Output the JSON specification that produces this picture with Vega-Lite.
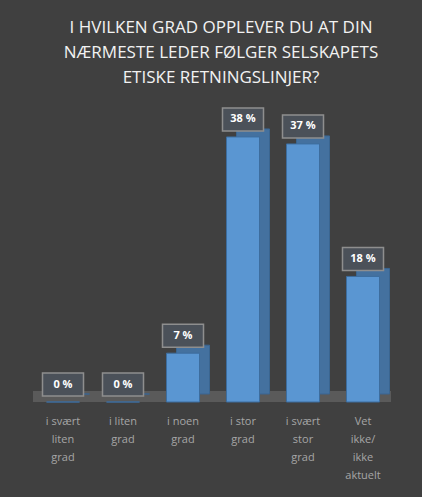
{
  "$schema": "https://vega.github.io/schema/vega-lite/v6.json",
  "autosize": "none",
  "width": 360,
  "height": 279,
  "padding": {"left": 33, "top": 123, "right": 29, "bottom": 95},
  "background": "#404040",
  "title": {
    "text": ["I HVILKEN GRAD OPPLEVER DU AT DIN", "NÆRMESTE LEDER FØLGER SELSKAPETS", "ETISKE RETNINGSLINJER?"],
    "anchor": "middle",
    "dx": 8,
    "offset": 20,
    "font": "Open Sans",
    "fontSize": 17,
    "fontWeight": "normal",
    "color": "#f2f2f2",
    "lineHeight": 25
  },
  "config": {"view": {"stroke": null}},
  "data": {
    "values": [
      {"cat": "i svært|liten|grad", "value": 0, "label": "0 %"},
      {"cat": "i liten|grad", "value": 0, "label": "0 %"},
      {"cat": "i noen|grad", "value": 7, "label": "7 %"},
      {"cat": "i stor|grad", "value": 38, "label": "38 %"},
      {"cat": "i svært|stor|grad", "value": 37, "label": "37 %"},
      {"cat": "Vet|ikke/|ikke|aktuelt", "value": 18, "label": "18 %"}
    ]
  },
  "layer": [
    {
      "mark": {"type": "rect", "color": "#5a5a5a", "yOffset": -11, "xOffset": -2, "x2Offset": 14},
      "encoding": {
        "y": {"datum": 0, "type": "quantitative", "scale": {"domain": [0, 40]}, "axis": null},
        "y2": {"datum": 0}
      }
    },
    {
      "mark": {"type": "bar", "width": 33, "color": "#44719f", "stroke": "#3a6590", "strokeWidth": 1, "xOffset": 10, "yOffset": -8, "y2Offset": -8},
      "encoding": {
        "x": {"field": "cat", "type": "nominal", "sort": null, "axis": null, "scale": {"paddingInner": 0.45, "paddingOuter": 0.225}},
        "y": {"field": "value", "type": "quantitative"},
        "y2": {"datum": 0}
      }
    },
    {
      "mark": {"type": "bar", "width": 33, "color": "#5a96d2", "stroke": "#3d6d9e", "strokeWidth": 1},
      "encoding": {
        "x": {"field": "cat", "type": "nominal", "sort": null},
        "y": {"field": "value", "type": "quantitative"},
        "y2": {"datum": 0}
      }
    },
    {
      "mark": {"type": "bar", "width": 41, "color": "#4b5159", "stroke": "#8e8e8e", "strokeWidth": 1.5, "yOffset": -29, "y2Offset": -6},
      "encoding": {
        "x": {"field": "cat", "type": "nominal", "sort": null},
        "y": {"field": "value", "type": "quantitative"},
        "y2": {"field": "value"}
      }
    },
    {
      "mark": {"type": "text", "color": "#ffffff", "font": "Open Sans", "fontSize": 11, "fontWeight": "bold", "dy": -17.5, "baseline": "middle"},
      "encoding": {
        "x": {"field": "cat", "type": "nominal", "sort": null},
        "y": {"field": "value", "type": "quantitative"},
        "text": {"field": "label"}
      }
    },
    {
      "mark": {"type": "text", "color": "#a6a6a6", "font": "Open Sans", "fontSize": 11, "baseline": "top", "dy": 14, "lineHeight": 18, "lineBreak": "|"},
      "encoding": {
        "x": {"field": "cat", "type": "nominal", "sort": null},
        "y": {"datum": 0, "type": "quantitative"},
        "text": {"field": "cat"}
      }
    }
  ]
}
